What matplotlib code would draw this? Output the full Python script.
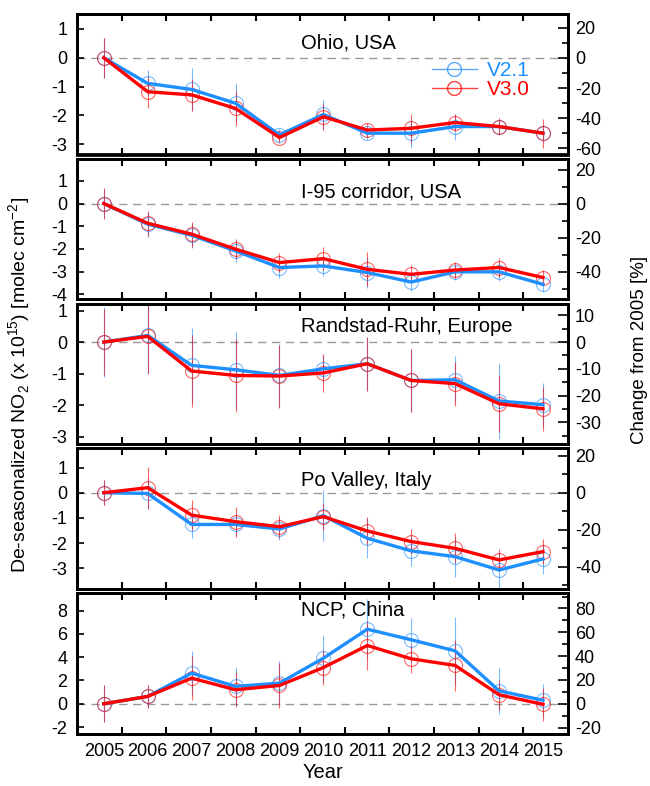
import numpy as np
import matplotlib
matplotlib.use('Agg')
import matplotlib.pyplot as plt
from matplotlib.lines import Line2D

plt.rcParams['font.family'] = ['Liberation Sans', 'DejaVu Sans']
plt.rcParams['mathtext.fontset'] = 'custom'
plt.rcParams['mathtext.rm'] = 'Liberation Sans'

# =============================
years = np.arange(2005, 2016)

regions = ['Ohio, USA', 'I-95 corridor, USA', 'Randstad-Ruhr, Europe',
           'Po Valley, Italy', 'NCP, China']

ohio_v21 = [0, -0.89, -1.10, -1.58, -2.68, -1.97, -2.62, -2.62, -2.39, -2.39, -2.62]
ohio_v30 = [0, -1.18, -1.29, -1.76, -2.77, -2.05, -2.51, -2.45, -2.25, -2.39, -2.62]
ohio_e21 = [0.7, 0.45, 0.75, 0.7, 0.2, 0.5, 0.2, 0.5, 0.45, 0.25, 0.3]
ohio_e30 = [0.7, 0.55, 0.55, 0.6, 0.2, 0.45, 0.25, 0.5, 0.3, 0.3, 0.5]

i95_v21 = [0, -0.91, -1.40, -2.09, -2.82, -2.75, -3.04, -3.46, -3.01, -3.01, -3.56]
i95_v30 = [0, -0.87, -1.35, -2.01, -2.60, -2.43, -2.90, -3.12, -2.93, -2.82, -3.26]
i95_e21 = [0.65, 0.55, 0.55, 0.5, 0.45, 0.45, 0.7, 0.4, 0.35, 0.4, 0.35]
i95_e30 = [0.7, 0.55, 0.55, 0.45, 0.4, 0.5, 0.75, 0.4, 0.35, 0.4, 0.35]

rr_v21 = [0, 0.21, -0.74, -0.88, -1.06, -0.85, -0.69, -1.22, -1.20, -1.87, -1.99]
rr_v30 = [0, 0.18, -0.92, -1.06, -1.08, -0.98, -0.69, -1.22, -1.32, -1.96, -2.12]
rr_e21 = [1.1, 1.2, 1.2, 1.2, 1.0, 0.45, 0.85, 1.0, 0.75, 1.2, 0.7]
rr_e30 = [1.05, 1.2, 1.15, 1.15, 1.0, 0.6, 0.85, 1.0, 0.7, 0.9, 0.7]

po_v21 = [0, -0.03, -1.26, -1.26, -1.44, -0.91, -1.81, -2.31, -2.54, -3.07, -2.63]
po_v30 = [0, 0.20, -0.89, -1.15, -1.35, -0.95, -1.52, -1.94, -2.21, -2.67, -2.34]
po_e21 = [0.5, 0.6, 0.55, 0.45, 0.45, 1.0, 0.8, 0.6, 0.8, 0.7, 0.6]
po_e30 = [0.5, 0.83, 0.6, 0.6, 0.45, 0.55, 0.55, 0.5, 0.6, 0.45, 0.5]

ncp_v21 = [0, 0.63, 2.63, 1.49, 1.77, 3.91, 6.40, 5.49, 4.54, 1.11, 0.30]
ncp_v30 = [0, 0.63, 2.20, 1.20, 1.57, 3.11, 5.00, 3.86, 3.29, 0.77, -0.05]
ncp_e21 = [1.6, 1.0, 1.9, 1.7, 1.9, 2.0, 2.6, 1.9, 2.9, 2.0, 1.4]
ncp_e30 = [1.6, 1.0, 1.9, 1.5, 1.9, 1.5, 2.1, 1.2, 2.2, 1.3, 1.4]

v21 = [ohio_v21, i95_v21, rr_v21, po_v21, ncp_v21]
v30 = [ohio_v30, i95_v30, rr_v30, po_v30, ncp_v30]
e21 = [ohio_e21, i95_e21, rr_e21, po_e21, ncp_e21]
e30 = [ohio_e30, i95_e30, rr_e30, po_e30, ncp_e30]

# axis setup per panel
ylims = [(-3.36, 1.52), (-4.22, 1.97), (-3.24, 1.22), (-3.82, 1.76), (-2.57, 9.49)]
yticks = [np.arange(-3, 2), np.arange(-4, 2), np.arange(-3, 2), np.arange(-3, 2), np.arange(-2, 9, 2)]
pct_per_unit = [19.04, 13.35, 11.75, 13.62, 9.78]  # % change per 1e15 unit
rticks = [np.arange(-60, 21, 20), np.arange(-40, 21, 20), np.arange(-30, 11, 10),
          np.arange(-40, 21, 20), np.arange(-20, 81, 20)]
title_y = [0.794, 0.764, 0.834, 0.774, 0.88]

blue = '#1e8fff'
red = '#ff0000'

# =============================
fig = plt.figure(figsize=(6.5, 7.86), dpi=100)
W, H = 650., 786.
left, right = 77., 568.
top0, pitch, h = 14., 144.8, 140.5
xlim = (2004.39, 2015.57)

for i in range(5):
    top = top0 + i*pitch
    ax = fig.add_axes([left/W, 1 - (top + h)/H, (right - left)/W, h/H])

    ax.axhline(0, color='#999999', lw=1, ls=(0, (6, 4)), zorder=1)

    for vals, errs, c in [(v21[i], e21[i], blue), (v30[i], e30[i], red)]:
        ax.errorbar(years, vals, yerr=errs, fmt='o', mfc='none', mec=c, ms=10, mew=0.8,
                    ecolor=c, elinewidth=0.8, capsize=0, alpha=0.6, zorder=2)
        ax.plot(years, vals, color=c, lw=2.4, zorder=3)

    ax.set_xlim(xlim)
    ax.set_ylim(ylims[i])
    ax.set_yticks(yticks[i])
    ax.set_yticklabels([str(t) for t in yticks[i]])
    ax.tick_params(axis='y', direction='in', length=5, width=1.2, labelsize=13, pad=7)

    # x ticks: unlabelled marks divide the axis into 11 parts, year labels below
    ax.set_xticks(np.linspace(xlim[0], xlim[1], 12)[1:-1], minor=True)
    ax.set_xticks(years)
    ax.tick_params(axis='x', which='minor', direction='in', length=5, width=1.5,
                   top=True, bottom=True)
    ax.tick_params(axis='x', which='major', length=0, labelsize=13, pad=7)
    if i < 4:
        ax.set_xticklabels([])
    for s in ax.spines.values():
        s.set_linewidth(2)

    ax.text(0.457, title_y[i], regions[i], transform=ax.transAxes, fontsize=14.5,
            ha='left', va='center')

    ax2 = ax.twinx()
    ax2.set_ylim(ylims[i][0]*pct_per_unit[i], ylims[i][1]*pct_per_unit[i])
    ax2.set_yticks(rticks[i])
    ax2.set_yticklabels([str(t) for t in rticks[i]])
    step = rticks[i][1] - rticks[i][0]
    ax2.set_yticks(np.arange(rticks[i][0] - step, rticks[i][-1] + step + 1, step/2), minor=True)
    ax2.set_ylim(ylims[i][0]*pct_per_unit[i], ylims[i][1]*pct_per_unit[i])
    ax2.tick_params(axis='y', which='major', direction='in', length=7, width=1.2,
                    labelsize=13, pad=5)
    ax2.tick_params(axis='y', which='minor', direction='in', length=4, width=1.2)
    for s in ax2.spines.values():
        s.set_linewidth(2)

    if i == 0:
        handles = [Line2D([], [], color=blue, lw=1, marker='o', mfc='none', ms=10, alpha=0.75),
                   Line2D([], [], color=red, lw=1, marker='o', mfc='none', ms=10, alpha=0.75)]
        leg = ax.legend(handles, ['V2.1', 'V3.0'], loc='upper left',
                        bbox_to_anchor=(0.722, 0.665), frameon=False, fontsize=15,
                        handlelength=2.2, handletextpad=0.45, labelspacing=0.0,
                        borderpad=0, borderaxespad=0)
        for txt, c in zip(leg.get_texts(), [blue, red]):
            txt.set_color(c)

    if i == 4:
        ax.set_xlabel('Year', fontsize=14.5, labelpad=2)

fig.text(20/W, 1 - 385/H, r'De-seasonalized NO$_2$ (x 10$^{15}$) [molec cm$^{-2}$]',
         rotation=90, ha='center', va='center', fontsize=14)
fig.text(639/W, 1 - 350/H, 'Change from 2005 [%]', rotation=90,
         ha='center', va='center', fontsize=13.5)

plt.savefig('out.png', dpi=100)
